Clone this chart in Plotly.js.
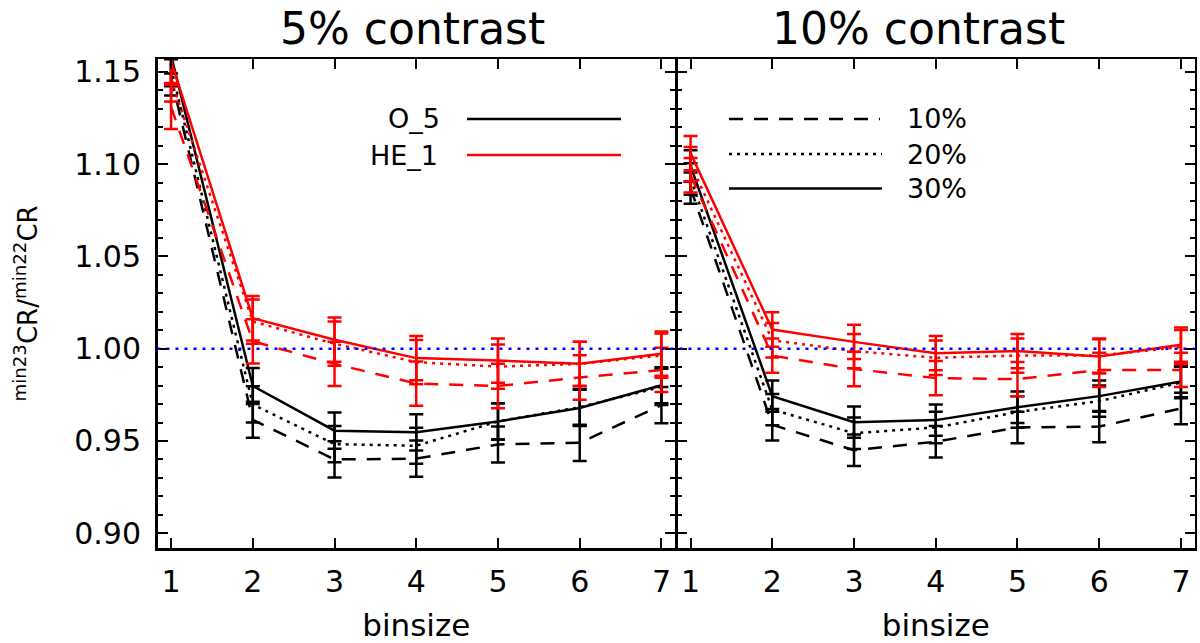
<!DOCTYPE html>
<html>
<head>
<meta charset="utf-8">
<script src="https://cdn.plot.ly/plotly-3.0.1.min.js"></script>
<style>
  html, body { margin: 0; padding: 0; background: #fff; }
  #chart { width: 1200px; height: 643px; }
</style>
</head>
<body>
<div id="chart"></div>
<script>
// binsize on the x axis, same for both panels
const binsize = [1, 2, 3, 4, 5, 6, 7];

// 5% contrast panel, O_5 (black) and HE_1 (red); 10/20/30% = dashed/dotted/solid
const c5_O5_10 = [1.147, 0.9615, 0.940, 0.9404, 0.9481, 0.9490, 0.9694];
const c5_O5_20 = [1.152, 0.9698, 0.9483, 0.9474, 0.9606, 0.9683, 0.9793];
const c5_O5_30 = [1.159, 0.9798, 0.9556, 0.9547, 0.9606, 0.9679, 0.9802];
const c5_HE1_10 = [1.131, 1.0040, 0.9918, 0.9811, 0.9798, 0.9844, 0.9885];
const c5_HE1_20 = [1.146, 1.0147, 1.0027, 0.9927, 0.9903, 0.9918, 0.9963];
const c5_HE1_30 = [1.156, 1.0165, 1.0049, 0.9949, 0.9936, 0.9918, 0.9973];

// 10% contrast panel
const c10_O5_10 = [1.087, 0.9588, 0.9450, 0.9496, 0.9573, 0.9578, 0.9676];
const c10_O5_20 = [1.092, 0.9670, 0.9542, 0.9573, 0.9657, 0.9716, 0.9817];
const c10_O5_30 = [1.099, 0.9743, 0.9602, 0.9613, 0.9683, 0.9743, 0.9822];
const c10_HE1_10 = [1.094, 0.9963, 0.9890, 0.9841, 0.9835, 0.9885, 0.9885];
const c10_HE1_20 = [1.100, 1.0046, 0.9987, 0.9951, 0.9963, 0.9963, 1.0009];
const c10_HE1_30 = [1.106, 1.0104, 1.0037, 0.9976, 0.9987, 0.9958, 1.0022];

// error bar half sizes
const err_c5_O5 = 0.0098;
const err_c5_HE1 = 0.012;
const err_c10_O5 = 0.0085;
const err_c10_HE1 = 0.0093;

const refLevel = 1.0;
const titles = ["5% contrast", "10% contrast"];
const modelNames = ["O_5", "HE_1"];
const levelNames = ["10%", "20%", "30%"];

const FONT = "DejaVu Sans";
const DASHES = ["14px,11px", "3px,5px", "solid"];
const BLACK = "#000000";
const RED = "#ff0000";

function series(y, err, color, dash, xa, ya) {
    return {
        x: binsize,
        y: y,
        xaxis: xa,
        yaxis: ya,
        type: "scatter",
        mode: "lines",
        line: { color: color, width: 2.5, dash: dash },
        error_y: { type: "constant", value: err, color: color, thickness: 2.5, width: 7 },
        hoverinfo: "skip"
    };
}

const traces = [
    series(c5_O5_10, err_c5_O5, BLACK, DASHES[0], "x", "y"),
    series(c5_O5_20, err_c5_O5, BLACK, DASHES[1], "x", "y"),
    series(c5_O5_30, err_c5_O5, BLACK, DASHES[2], "x", "y"),
    series(c5_HE1_10, err_c5_HE1, RED, DASHES[0], "x", "y"),
    series(c5_HE1_20, err_c5_HE1, RED, DASHES[1], "x", "y"),
    series(c5_HE1_30, err_c5_HE1, RED, DASHES[2], "x", "y"),
    series(c10_O5_10, err_c10_O5, BLACK, DASHES[0], "x2", "y2"),
    series(c10_O5_20, err_c10_O5, BLACK, DASHES[1], "x2", "y2"),
    series(c10_O5_30, err_c10_O5, BLACK, DASHES[2], "x2", "y2"),
    series(c10_HE1_10, err_c10_HE1, RED, DASHES[0], "x2", "y2"),
    series(c10_HE1_20, err_c10_HE1, RED, DASHES[1], "x2", "y2"),
    series(c10_HE1_30, err_c10_HE1, RED, DASHES[2], "x2", "y2")
];

const W = 1200, TOP = 59, BOTTOM = 548;
const px = v => v / W;
const py = v => (BOTTOM - v) / (BOTTOM - TOP);

const xBase = {
    range: [0.834, 7.166],
    tick0: 1, dtick: 1,
    ticks: "inside", ticklen: 10, tickwidth: 2, tickcolor: BLACK,
    showline: true, linewidth: 2.5, linecolor: BLACK, mirror: "ticks",
    showgrid: false, zeroline: false,
    tickfont: { family: FONT, size: 30, color: BLACK },
    ticklabelstandoff: 5,
    title: { text: "binsize", font: { family: FONT, size: 31, color: BLACK }, standoff: 20 }
};
const yBase = {
    range: [0.892, 1.157],
    tick0: 0.9, dtick: 0.05, tickformat: ".2f",
    ticks: "inside", ticklen: 10, tickwidth: 2, tickcolor: BLACK,
    minor: { dtick: 0.01, ticks: "inside", ticklen: 5, tickwidth: 2, tickcolor: BLACK },
    showline: true, linewidth: 2.5, linecolor: BLACK, mirror: "ticks",
    showgrid: false, zeroline: false,
    tickfont: { family: FONT, size: 30, color: BLACK },
    ticklabelstandoff: 8
};

const layout = {
    width: W, height: 643,
    margin: { l: 0, r: 0, t: TOP, b: 643 - BOTTOM },
    paper_bgcolor: "#fff", plot_bgcolor: "#fff",
    showlegend: false,
    font: { family: FONT, color: BLACK },
    xaxis: Object.assign({}, xBase, { domain: [px(157.5), px(675)], anchor: "y" }),
    yaxis: Object.assign({}, yBase, { domain: [0, 1], anchor: "x" }),
    xaxis2: Object.assign({}, xBase, { domain: [px(677), px(1194.5)], anchor: "y2" }),
    yaxis2: Object.assign({}, yBase, { domain: [0, 1], anchor: "x2", showticklabels: false }),
    shapes: [
        // reference level
        { type: "line", xref: "paper", yref: "y", x0: px(157.5), x1: px(1194.5), y0: refLevel, y1: refLevel,
          line: { color: "#0000ff", width: 2.5, dash: "3px,6px" } },
        // legend samples, left panel
        { type: "line", xref: "paper", yref: "paper", x0: px(467), x1: px(621), y0: py(119), y1: py(119),
          line: { color: BLACK, width: 2.5 } },
        { type: "line", xref: "paper", yref: "paper", x0: px(467), x1: px(621), y0: py(155), y1: py(155),
          line: { color: RED, width: 2.5 } },
        // legend samples, right panel
        { type: "line", xref: "paper", yref: "paper", x0: px(729), x1: px(880), y0: py(119), y1: py(119),
          line: { color: BLACK, width: 2.5, dash: DASHES[0] } },
        { type: "line", xref: "paper", yref: "paper", x0: px(729), x1: px(882), y0: py(154), y1: py(154),
          line: { color: BLACK, width: 2.5, dash: DASHES[1] } },
        { type: "line", xref: "paper", yref: "paper", x0: px(729), x1: px(882), y0: py(188.5), y1: py(188.5),
          line: { color: BLACK, width: 2.5 } }
    ],
    annotations: [
        { text: titles[0], xref: "paper", yref: "paper", x: px(412), y: py(29), showarrow: false,
          xanchor: "center", yanchor: "middle", font: { family: FONT, size: 44, color: BLACK } },
        { text: titles[1], xref: "paper", yref: "paper", x: px(918), y: py(29), showarrow: false,
          xanchor: "center", yanchor: "middle", font: { family: FONT, size: 44, color: BLACK } },
        { text: "<sup>min23</sup>CR/<sup>min22</sup>CR", xref: "paper", yref: "paper", x: px(26), y: 0.5,
          textangle: -90, showarrow: false, xanchor: "center", yanchor: "middle",
          font: { family: FONT, size: 26, color: BLACK } },
        { text: modelNames[0], xref: "paper", yref: "paper", x: px(442), y: py(119), showarrow: false,
          xanchor: "right", yanchor: "middle", font: { family: FONT, size: 27, color: BLACK } },
        { text: modelNames[1], xref: "paper", yref: "paper", x: px(440), y: py(155), showarrow: false,
          xanchor: "right", yanchor: "middle", font: { family: FONT, size: 27, color: BLACK } },
        { text: levelNames[0], xref: "paper", yref: "paper", x: px(905), y: py(119), showarrow: false,
          xanchor: "left", yanchor: "middle", font: { family: FONT, size: 27, color: BLACK } },
        { text: levelNames[1], xref: "paper", yref: "paper", x: px(905), y: py(154), showarrow: false,
          xanchor: "left", yanchor: "middle", font: { family: FONT, size: 27, color: BLACK } },
        { text: levelNames[2], xref: "paper", yref: "paper", x: px(905), y: py(188.5), showarrow: false,
          xanchor: "left", yanchor: "middle", font: { family: FONT, size: 27, color: BLACK } }
    ]
};

Plotly.newPlot("chart", traces, layout, { displayModeBar: false, staticPlot: true });
</script>
</body>
</html>
